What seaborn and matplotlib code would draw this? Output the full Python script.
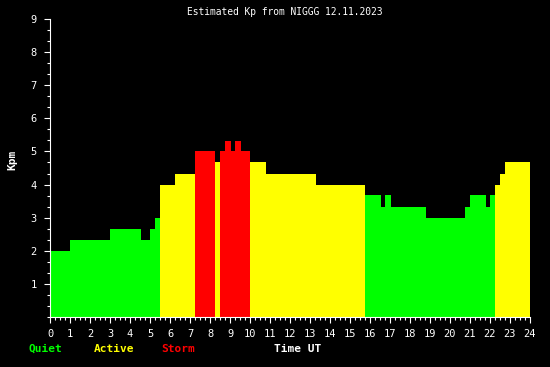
import numpy as np
import pandas as pd
import matplotlib
matplotlib.use("Agg")
import matplotlib.pyplot as plt
import seaborn as sns
from matplotlib.ticker import MultipleLocator, FixedLocator

# Segment start times (UT hours) and estimated Kp values
starts = [0, 1, 3, 4.55, 5, 5.25, 5.5, 6.25, 7.25, 8.25, 8.5, 8.75, 9.05, 9.25,
          9.55, 10, 10.8, 13.3, 15.75, 16.55, 16.75, 17.05, 18.8, 20.75, 21,
          21.8, 22, 22.25, 22.5, 22.75]
end_time = 24
kp = [2.0, 2.33, 2.67, 2.33, 2.67, 3.0, 4.0, 4.33, 5.0, 4.67, 5.0, 5.33, 5.0, 5.33,
      5.0, 4.67, 4.33, 4.0, 3.67, 3.33, 3.67, 3.33, 3.0, 3.33, 3.67,
      3.33, 3.67, 4.0, 4.33, 4.67]
x_ticks = list(range(0, 25))
y_ticks = list(range(1, 10))
levels = ["Quiet", "Active", "Storm"]
colors = {"Quiet": "#00ff00", "Active": "#ffff00", "Storm": "#ff0000"}

edges = [float(e) for e in starts] + [float(end_time)]
e_arr = np.array(edges)
mids = (e_arr[:-1] + e_arr[1:]) / 2
lvl = ["Storm" if v >= 5 else ("Active" if v >= 4 else "Quiet") for v in kp]
df = pd.DataFrame({"mid": mids, "kp": kp, "level": lvl})

sns.set_style("dark")
plt.rcParams["font.family"] = ["DejaVu Sans Mono"]

W, H = 550, 367
fig = plt.figure(figsize=(W / 100, H / 100), dpi=100, facecolor="black")
ax = fig.add_axes([50 / W, 1 - 317 / H, 480 / W, 298 / H])
ax.set_facecolor("black")

sns.histplot(data=df, x="mid", weights="kp", bins=edges, hue="level",
             hue_order=levels, palette=colors, multiple="layer", alpha=1,
             linewidth=0, edgecolor="none", legend=False, ax=ax)

ax.set_xlim(0, 24)
ax.set_ylim(0, 9)
ax.set_xlabel("")
ax.set_ylabel("")
ax.grid(False)

for s in ["top", "right"]:
    ax.spines[s].set_visible(False)
for s in ["left", "bottom"]:
    ax.spines[s].set_visible(True)
    ax.spines[s].set_color("white")
    ax.spines[s].set_linewidth(0.8)

ax.xaxis.set_major_locator(FixedLocator(x_ticks))
ax.xaxis.set_minor_locator(MultipleLocator(0.25))
ax.yaxis.set_major_locator(FixedLocator(y_ticks))
ax.yaxis.set_minor_locator(MultipleLocator(1 / 3))
ax.set_xticklabels([str(t) for t in x_ticks])
ax.set_yticklabels([str(t) for t in y_ticks])

ax.tick_params(axis="both", which="major", colors="white", length=4.5, width=0.8,
               labelsize=7.5, direction="out", bottom=True, left=True)
ax.tick_params(axis="both", which="minor", colors="white", length=2.5, width=0.8,
               direction="out", bottom=True, left=True)
ax.tick_params(axis="x", which="major", pad=4)
ax.tick_params(axis="y", which="major", pad=5)

def ftext(x, y, s, **kw):
    fig.text(x / W, 1 - y / H, s, **kw)

ftext(285, 12, "Estimated Kp from NIGGG 12.11.2023", color="white",
      fontsize=6.9, ha="center", va="center")
ftext(12, 160, "Kpm", color="white", fontsize=8, fontweight="bold",
      rotation=90, ha="center", va="center")
ftext(45, 349, "Quiet", color=colors["Quiet"], fontsize=8, fontweight="bold",
      ha="center", va="center")
ftext(114, 349, "Active", color=colors["Active"], fontsize=8, fontweight="bold",
      ha="center", va="center")
ftext(178, 349, "Storm", color=colors["Storm"], fontsize=8, fontweight="bold",
      ha="center", va="center")
ftext(298, 349, "Time UT", color="white", fontsize=8, fontweight="bold",
      ha="center", va="center")

fig.savefig("out.png", dpi=100, facecolor="black")
